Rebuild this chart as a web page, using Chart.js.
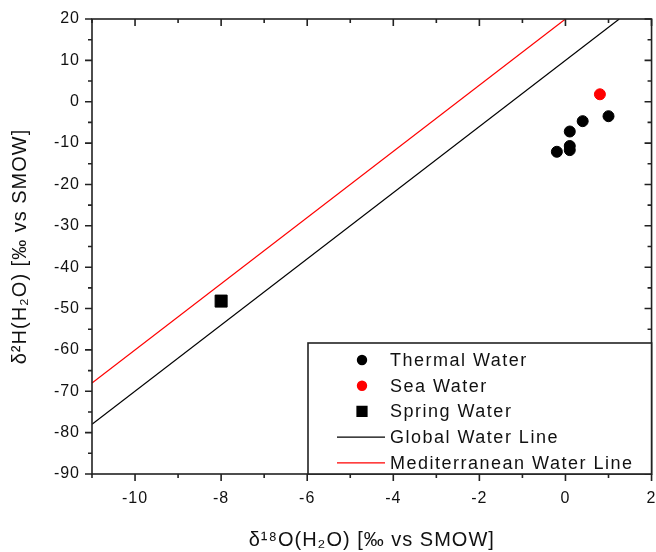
<!DOCTYPE html>
<html>
<head>
<meta charset="utf-8">
<script src="https://cdn.jsdelivr.net/npm/chart.js@4/dist/chart.umd.min.js"></script>
<style>
  html, body { margin: 0; padding: 0; background: #fff; overflow: hidden; }
  canvas { display: block; }
</style>
</head>
<body>
<canvas id="isotopes" width="656" height="552"></canvas>
<script>
// values
const thermalX = [-0.2, 0.1, 0.1, 0.1, 0.4, 1.0];
const thermalY = [-12.1, -11.7, -10.7, -7.2, -4.7, -3.5];
const seaX = [0.8];
const seaY = [1.8];
const springX = [-8.0];
const springY = [-48.2];
const globalX = [-11, 1.25];
const globalY = [-78, 20];
const medX = [-11, 0];
const medY = [-68, 20];

const xMajor = [-10, -8, -6, -4, -2, 0, 2];
const xMinor = [-11, -9, -7, -5, -3, -1, 1];
const yMajor = [-90, -80, -70, -60, -50, -40, -30, -20, -10, 0, 10, 20];
const yMinor = [-85, -75, -65, -55, -45, -35, -25, -15, -5, 5, 15];

const FONT = "'Liberation Sans', Arial, sans-serif";
const INK = "#111";

const pts = (xs, ys) => xs.map((x, i) => ({ x: x, y: ys[i] }));

// the original text is set a little loose
const spacing = {
    id: "spacing",
    beforeDraw(chart) {
        chart.ctx.letterSpacing = "1px";
    },
};

// frame + minor/major tick marks, drawn by hand (chart.js has no minor ticks)
const frameTicks = {
    id: "frameTicks",
    afterDatasetsDraw(chart) {
        const { ctx, chartArea: a, scales: { x, y } } = chart;
        ctx.save();
        ctx.strokeStyle = "#222";
        ctx.lineWidth = 1.6;
        ctx.strokeRect(a.left, a.top, a.right - a.left, a.bottom - a.top);
        const tickX = (vals, len) => {
            vals.forEach((v) => {
                const px = x.getPixelForValue(v);
                ctx.beginPath();
                ctx.moveTo(px, a.bottom); ctx.lineTo(px, a.bottom + len);
                ctx.moveTo(px, a.top); ctx.lineTo(px, a.top + len);
                ctx.stroke();
            });
        };
        const tickY = (vals, len) => {
            vals.forEach((v) => {
                const py = y.getPixelForValue(v);
                ctx.beginPath();
                ctx.moveTo(a.left, py); ctx.lineTo(a.left - len, py);
                ctx.moveTo(a.right, py); ctx.lineTo(a.right - len, py);
                ctx.stroke();
            });
        };
        tickX(xMajor, 7);
        tickX(xMinor, 4);
        tickY(yMajor, 7);
        tickY(yMinor, 4);
        ctx.restore();
    },
};

// boxed legend inside the lower right corner of the plot
const boxLegend = {
    id: "boxLegend",
    afterDraw(chart) {
        const { ctx, chartArea: a } = chart;
        const left = 308, top = 343;
        ctx.save();
        ctx.fillStyle = "#fff";
        ctx.fillRect(left, top, a.right - left, a.bottom - top);
        ctx.strokeStyle = "#222";
        ctx.lineWidth = 1.6;
        ctx.strokeRect(left, top, a.right - left, a.bottom - top);
        ctx.font = "18px " + FONT;
        ctx.letterSpacing = "1.5px";
        ctx.textBaseline = "middle";
        chart.data.datasets.forEach((ds, i) => {
            const cy = 360 + i * 25.7;
            if (ds.showLine) {
                ctx.strokeStyle = ds.borderColor;
                ctx.lineWidth = 1.3;
                ctx.beginPath();
                ctx.moveTo(337, cy); ctx.lineTo(385, cy);
                ctx.stroke();
            } else {
                ctx.fillStyle = ds.backgroundColor;
                ctx.strokeStyle = ds.borderColor;
                Chart.helpers.drawPoint(ctx, {
                    pointStyle: ds.pointStyle, radius: ds.pointRadius * 0.8,
                    rotation: 0, borderWidth: 1,
                }, 362, cy);
            }
            ctx.fillStyle = INK;
            ctx.fillText(ds.label, 390, cy + 1);
        });
        ctx.restore();
    },
};

const ctx = document.getElementById("isotopes").getContext("2d");
const chart = new Chart(ctx, {
    type: "scatter",
    data: {
        datasets: [
            { label: "Thermal Water", data: pts(thermalX, thermalY), pointStyle: "circle",
              pointRadius: 5.5, backgroundColor: "#000", borderColor: "#000" },
            { label: "Sea Water", data: pts(seaX, seaY), pointStyle: "circle",
              pointRadius: 5.5, backgroundColor: "#ff0000", borderColor: "#ff0000" },
            { label: "Spring Water", data: pts(springX, springY), pointStyle: "rect",
              pointRadius: 8.5, backgroundColor: "#000", borderColor: "#000" },
            { label: "Global Water Line", data: pts(globalX, globalY), showLine: true,
              pointRadius: 0, borderColor: "#000", borderWidth: 1.2 },
            { label: "Mediterranean Water Line", data: pts(medX, medY), showLine: true,
              pointRadius: 0, borderColor: "#ff0000", borderWidth: 1.2 },
        ],
    },
    options: {
        responsive: false,
        animation: false,
        layout: {
            autoPadding: false,
            padding: { top: 19, right: 4, left: 0, bottom: 0 },
        },
        scales: {
            x: {
                type: "linear", min: -11, max: 2,
                afterBuildTicks: (s) => { s.ticks = xMajor.map((v) => ({ value: v })); },
                afterFit: (s) => { s.height = 78; },
                // tick marks are drawn by the plugin; tickLength only offsets the labels
                grid: { display: false, tickLength: 15 },
                border: { display: false },
                ticks: { color: INK, padding: 0, maxRotation: 0, font: { family: FONT, size: 16 } },
                title: { display: true, text: "δ¹⁸O(H₂O) [‰ vs SMOW]", color: INK,
                         padding: { top: 4, bottom: 0 }, font: { family: FONT, size: 20 } },
            },
            y: {
                type: "linear", min: -90, max: 20,
                afterBuildTicks: (s) => { s.ticks = yMajor.map((v) => ({ value: v })); },
                afterFit: (s) => { s.width = 92; },
                grid: { display: false, tickLength: 8 },
                border: { display: false },
                ticks: { color: INK, padding: 4, font: { family: FONT, size: 16 } },
                title: { display: true, text: "δ²H(H₂O) [‰ vs SMOW]", color: INK,
                         padding: { top: 8, bottom: 0 }, font: { family: FONT, size: 20 } },
            },
        },
        plugins: { legend: { display: false }, tooltip: { enabled: false } },
    },
    plugins: [spacing, frameTicks, boxLegend],
});
</script>
</body>
</html>
